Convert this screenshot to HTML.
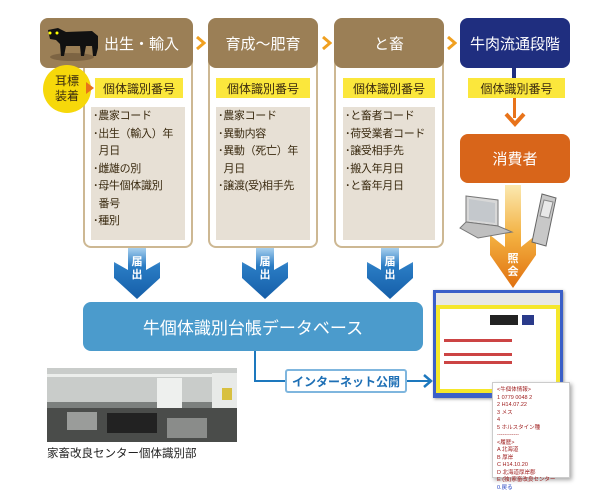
<!DOCTYPE html>
<html><head><meta charset="utf-8">
<style>
*{margin:0;padding:0;box-sizing:border-box}
body{width:600px;height:500px;background:#fff;position:relative;overflow:hidden;font-family:"Liberation Sans","Noto Sans CJK JP",sans-serif}
.a{position:absolute}
.hd{position:absolute;top:18px;height:50px;background:#9b7f56;border-radius:8px;color:#fff;font-size:15px;display:flex;align-items:center;justify-content:center}
.bd{position:absolute;top:55px;height:193px;border:2px solid #cdb893;border-top:none;border-radius:0 0 8px 8px;background:#fff}
.yl{position:absolute;top:78px;height:20px;background:#fbe73c;color:#3a2a10;font-size:12px;display:flex;align-items:center;justify-content:center}
.gr{position:absolute;top:107px;height:133px;background:#e7e0d5;font-size:11px;color:#3a2a10;line-height:17.5px;padding:1px 0 0 2px;letter-spacing:-0.3px;white-space:nowrap}
.chev{position:absolute;top:36px;width:10px;height:14px}
.blarr{position:absolute;top:248px;width:48px;height:52px}
</style></head><body>

<div class="bd" style="left:83px;width:110px"></div>
<div class="hd" style="left:40px;width:153px;padding-left:50px">出生・輸入</div>
<div class="bd" style="left:208px;width:110px"></div>
<div class="hd" style="left:208px;width:110px">育成～肥育</div>
<div class="bd" style="left:334px;width:110px"></div>
<div class="hd" style="left:334px;width:110px">と畜</div>
<div class="hd" style="left:460px;width:110px;background:#1f2e7f">牛肉流通段階</div>

<svg class="a" style="left:44px;top:24px" width="58" height="38">
<ellipse cx="28" cy="33" rx="22" ry="4" fill="#7d6443"/>
<path d="M4 6 L14 4 L22 8 L48 7 L54 12 L54 24 L52 32 L49 32 L48 22 L42 22 L40 32 L37 32 L36 22 L22 22 L20 32 L17 32 L16 20 L12 16 L6 15 Z" fill="#111"/>
<circle cx="6" cy="9" r="1.5" fill="#ff0"/><circle cx="13" cy="9" r="1.5" fill="#ff0"/>
</svg>

<svg class="chev" style="left:196px"><path d="M1 1 L8 7 L1 13" stroke="#f0a020" stroke-width="3" fill="none"/></svg>
<svg class="chev" style="left:322px"><path d="M1 1 L8 7 L1 13" stroke="#f0a020" stroke-width="3" fill="none"/></svg>
<svg class="chev" style="left:447px"><path d="M1 1 L8 7 L1 13" stroke="#f0a020" stroke-width="3" fill="none"/></svg>

<div class="yl" style="left:95px;width:88px">個体識別番号</div>
<div class="yl" style="left:216px;width:94px">個体識別番号</div>
<div class="yl" style="left:343px;width:92px">個体識別番号</div>
<div class="yl" style="left:468px;width:97px">個体識別番号</div>

<div class="a" style="left:43px;top:65px;width:48px;height:48px;border-radius:50%;background:#f6d80a;color:#3a2a10;font-size:12px;line-height:15px;text-align:center;padding-top:9px">耳標<br>装着</div>
<svg class="a" style="left:86px;top:82px" width="8" height="12"><path d="M0 0 L8 6 L0 12Z" fill="#e8731a"/></svg>

<div class="gr" style="left:91px;width:94px">･農家コード<br>･出生（輸入）年<br>&nbsp;&nbsp;月日<br>･雌雄の別<br>･母牛個体識別<br>&nbsp;&nbsp;番号<br>･種別</div>
<div class="gr" style="left:216px;width:94px">･農家コード<br>･異動内容<br>･異動（死亡）年<br>&nbsp;&nbsp;月日<br>･譲渡(受)相手先</div>
<div class="gr" style="left:343px;width:92px">･と畜者コード<br>･荷受業者コード<br>･譲受相手先<br>･搬入年月日<br>･と畜年月日</div>

<div class="a" style="left:512px;top:68px;width:4px;height:10px;background:#1f2e7f"></div>
<div class="a" style="left:513px;top:98px;width:3px;height:20px;background:#e8731a"></div>
<svg class="a" style="left:504px;top:112px" width="22" height="16"><path d="M2 2 L11 12 L20 2" stroke="#e8731a" stroke-width="4" fill="none"/></svg>
<div class="hd" style="left:460px;top:134px;height:49px;width:110px;background:#d8651a">消費者</div>

<svg class="a" style="left:490px;top:185px" width="50" height="104">
<defs><linearGradient id="og" x1="0" y1="0" x2="0" y2="1"><stop offset="0" stop-color="#fbe9b0"/><stop offset=".5" stop-color="#f3b040"/><stop offset="1" stop-color="#e0700f"/></linearGradient></defs>
<path d="M15 0 H31 V62 L46 50 V70 L23 103 L0 70 V50 L15 62 Z" fill="url(#og)"/>
<text x="23" y="77" font-size="11" font-weight="bold" fill="#fff" text-anchor="middle">照</text>
<text x="23" y="90" font-size="11" font-weight="bold" fill="#fff" text-anchor="middle">会</text>
</svg>

<svg class="a" style="left:458px;top:194px" width="56" height="48">
<path d="M8 2 L40 6 L40 32 L8 28 Z" fill="#d8d8d8" stroke="#777"/>
<path d="M11 5 L37 9 L37 29 L11 26Z" fill="#c4c8cc"/>
<path d="M8 28 L40 32 L54 38 L20 44 L2 34 Z" fill="#bfbfbf" stroke="#777"/>
</svg>
<svg class="a" style="left:530px;top:192px" width="30" height="56">
<path d="M12 2 L26 6 L16 54 L2 50 Z" fill="#c8c8c8" stroke="#666"/>
<path d="M14 8 L23 10 L19 26 L10 24Z" fill="#e8e8e8" stroke="#888"/>
</svg>

<svg class="blarr" style="left:113px"><defs><linearGradient id="bg" x1="0" y1="0" x2="0" y2="1"><stop offset="0" stop-color="#a8d0ee"/><stop offset=".35" stop-color="#2a7cc4"/><stop offset="1" stop-color="#155ea8"/></linearGradient></defs><path d="M15 0 H33 V22 L47 14 V30 L24 51 L1 30 V14 L15 22Z" fill="url(#bg)"/></svg>
<div class="a" style="left:113px;top:256px;width:48px;text-align:center;color:#fff;font-size:11px;font-weight:bold;line-height:13px">届<br>出</div>
<svg class="blarr" style="left:241px"><path d="M15 0 H33 V22 L47 14 V30 L24 51 L1 30 V14 L15 22Z" fill="url(#bg)"/></svg>
<div class="a" style="left:241px;top:256px;width:48px;text-align:center;color:#fff;font-size:11px;font-weight:bold;line-height:13px">届<br>出</div>
<svg class="blarr" style="left:366px"><path d="M15 0 H33 V22 L47 14 V30 L24 51 L1 30 V14 L15 22Z" fill="url(#bg)"/></svg>
<div class="a" style="left:366px;top:256px;width:48px;text-align:center;color:#fff;font-size:11px;font-weight:bold;line-height:13px">届<br>出</div>

<div class="a" style="left:83px;top:302px;width:340px;height:49px;border-radius:8px;background:#4b9bcc;color:#fff;font-size:17px;display:flex;align-items:center;justify-content:center">牛個体識別台帳データベース</div>
<div class="a" style="left:254px;top:351px;width:2px;height:31px;background:#1d78be"></div>
<div class="a" style="left:254px;top:380px;width:32px;height:2px;background:#1d78be"></div>
<div class="a" style="left:285px;top:369px;width:122px;height:24px;border:2px solid #7fb6de;border-radius:3px;color:#1d6fb5;font-size:12px;font-weight:bold;display:flex;align-items:center;justify-content:center">インターネット公開</div>
<div class="a" style="left:407px;top:380px;width:22px;height:2px;background:#1d78be"></div>
<svg class="a" style="left:423px;top:374px" width="10" height="14"><path d="M1 1 L8 7 L1 13" stroke="#1d78be" stroke-width="2.5" fill="none"/></svg>

<svg class="a" style="left:47px;top:368px" width="190" height="74">
<rect width="190" height="74" fill="#7c807e"/>
<rect width="190" height="34" fill="#c9ccca"/>
<rect x="0" y="6" width="190" height="3" fill="#eceeec"/>
<rect x="110" y="10" width="25" height="30" fill="#eef0ee"/>
<rect x="165" y="5" width="25" height="35" fill="#e8eae8"/>
<rect x="0" y="40" width="190" height="34" fill="#4a4c4a"/>
<rect x="20" y="44" width="30" height="18" fill="#9a9c9a"/>
<rect x="60" y="45" width="50" height="20" fill="#222"/>
<rect x="120" y="50" width="40" height="20" fill="#8a8c8a"/>
<rect x="175" y="20" width="10" height="12" fill="#d8c040"/>
</svg>
<div class="a" style="left:47px;top:445px;font-size:11.5px;color:#222">家畜改良センター個体識別部</div>

<div class="a" style="left:433px;top:290px;width:130px;height:108px;background:#3a5fc8;padding:3px;box-shadow:1px 1px 3px #999">
<div style="background:#e8e8e4;height:12px"></div>
<div style="background:#f5e72a;height:88px;padding:4px">
<div style="background:#fff;height:80px;position:relative">
<div class="a" style="left:50px;top:6px;width:28px;height:10px;background:#222"></div>
<div class="a" style="left:82px;top:6px;width:12px;height:10px;background:#2a3a8a"></div>
<div class="a" style="left:4px;top:30px;width:68px;height:3px;background:#c44"></div>
<div class="a" style="left:4px;top:44px;width:68px;height:3px;background:#c44"></div>
<div class="a" style="left:4px;top:52px;width:68px;height:3px;background:#c44"></div>
</div></div></div>

<div class="a" style="left:492px;top:382px;width:78px;height:96px;background:#fff;border:1px solid #ccc;box-shadow:2px 2px 4px #aaa;font-size:5.5px;line-height:7.5px;color:#a02020;padding:4px">&lt;牛個体情報&gt;<br>1 0779 0048 2<br>2 H14.07.22<br>3 メス<br>4<br>5 ホルスタイン種<br>------------<br>&lt;履歴&gt;<br>A 北海道<br>B 厚岸<br>C H14.10.20<br>D 北海道厚岸郡<br>E (独)家畜改良センター<br><span style="color:#2040c0">0.戻る</span></div>

</body></html>
